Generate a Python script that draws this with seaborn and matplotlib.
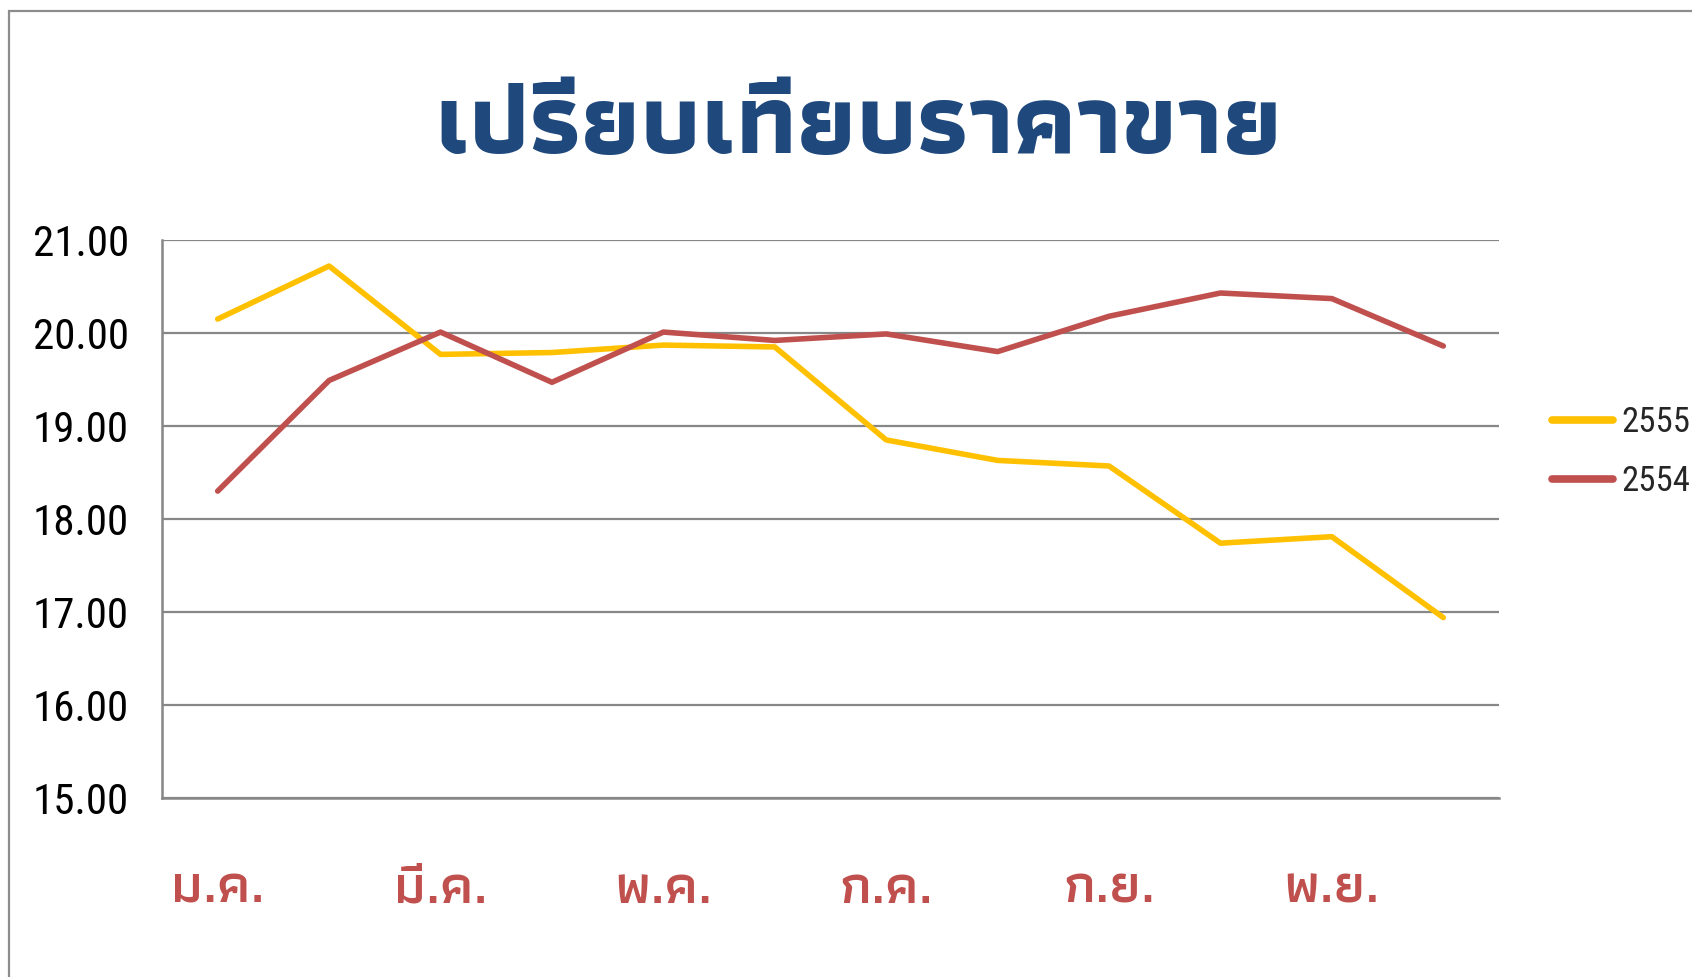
import pandas as pd
import numpy as np
import matplotlib
matplotlib.use("Agg")
import matplotlib.pyplot as plt
import matplotlib.patches as mpatches
import seaborn as sns

months = ["ม.ค.", "ก.พ.", "มี.ค.", "เม.ย.", "พ.ค.", "มิ.ย.",
          "ก.ค.", "ส.ค.", "ก.ย.", "ต.ค.", "พ.ย.", "ธ.ค."]
price_2555 = [20.15, 20.72, 19.77, 19.79, 19.87, 19.85,
              18.85, 18.63, 18.57, 17.74, 17.81, 16.94]
price_2554 = [18.30, 19.49, 20.01, 19.47, 20.01, 19.92,
              19.99, 19.80, 20.18, 20.43, 20.37, 19.86]
series_names = ["2555", "2554"]
yticks = [15, 16, 17, 18, 19, 20, 21]

df = pd.DataFrame({
    "month": list(range(12)) * 2,
    "price": price_2555 + price_2554,
    "year": ["2555"] * 12 + ["2554"] * 12,
})

sns.set_style("white")
plt.rcParams["font.family"] = ["Athiti", "DejaVu Sans"]
narrow = ["Roboto Condensed", "Liberation Sans Narrow", "DejaVu Sans"]

fig = plt.figure(figsize=(16.92, 9.77), dpi=100)
ax = fig.add_axes([162 / 1692, 1 - 798 / 977, (1499 - 162) / 1692, (798 - 240) / 977])

# outer chart frame (cut off at right and bottom like the screenshot)
fig.add_artist(mpatches.Rectangle((9 / 1692, -0.1), 1.2, 1 - 11 / 977 + 0.1,
                                  transform=fig.transFigure, fill=False,
                                  edgecolor="#8c8c8c", linewidth=1.6))

sns.lineplot(data=df, x="month", y="price", hue="year", hue_order=series_names,
             palette={"2555": "#FFC000", "2554": "#C0504D"}, linewidth=4.0,
             ax=ax, legend=True)

ax.set_xlim(-0.5, 11.5)
ax.set_ylim(15, 21)
ax.set_yticks(yticks)
ax.set_yticklabels([f"{v:.2f}" for v in yticks], fontsize=31, color="black",
                   family=narrow)
ax.set_xticks(range(0, 12, 2))
ax.set_xticklabels(months[::2], fontsize=40, color="#C0504D", fontweight="semibold")
ax.tick_params(axis="x", length=0, pad=48)
ax.tick_params(axis="y", length=0, pad=24)
ax.yaxis.grid(True, color="#878787", linewidth=1.6)
ax.set_axisbelow(True)
ax.set_xlabel("")
ax.set_ylabel("")
for side in ["top", "right"]:
    ax.spines[side].set_visible(False)
for side in ["left", "bottom"]:
    ax.spines[side].set_color("#878787")
    ax.spines[side].set_linewidth(1.8)

handles, labels = ax.get_legend_handles_labels()
leg = ax.legend(handles, labels, loc="center left", bbox_to_anchor=(1552 / 1692, 1 - 452 / 977),
                bbox_transform=fig.transFigure, frameon=False,
                prop={"family": narrow, "size": 25},
                handlelength=1.75, handletextpad=0.25, labelspacing=0.75, borderaxespad=0,
                borderpad=0)
for line in leg.get_lines():
    line.set_linewidth(5.5)

fig.text(858 / 1692, 1 - 153 / 977, "เปรียบเทียบราคาขาย", ha="center", va="baseline",
         fontsize=72, fontweight="bold", color="#1F497D")

fig.savefig("out.png", dpi=100, facecolor="white")
